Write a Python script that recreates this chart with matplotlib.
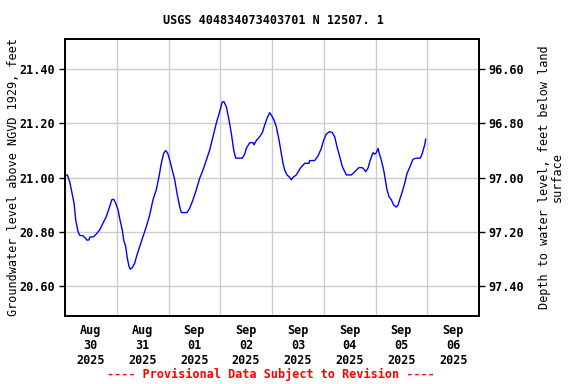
import numpy as np
import pandas as pd
import matplotlib
matplotlib.use("Agg")
import matplotlib.pyplot as plt
import matplotlib.dates as mdates

# hours after 2025-08-30 00:00 and groundwater level (ft above NGVD 1929)
hours = [0.0, 1.07, 2.18, 3.25, 4.17, 4.96, 6.03, 6.82, 8.35, 9.60, 10.2, 11.13, 11.46,
         13.31, 14.52, 16.09, 17.62, 19.15, 20.73, 21.66, 22.59, 23.51, 24.58, 25.65,
         26.57, 27.22, 28.15, 28.89, 29.68, 30.28, 31.21, 32.32, 33.39, 34.64, 36.17,
         37.70, 39.28, 40.81, 42.34, 43.59, 44.66, 45.77, 46.70, 47.63, 48.56, 49.76,
         50.88, 51.94, 53.20, 53.94, 55.51, 56.58, 57.83, 59.36, 60.89, 62.47, 64.0,
         65.53, 67.11, 68.64, 70.17, 71.74, 72.95, 73.74, 74.81, 76.06, 77.12, 78.24,
         79.17, 82.23, 83.34, 84.08, 85.66, 87.19, 87.65, 88.72, 90.30, 91.50, 92.61,
         93.68, 94.93, 95.68, 96.93, 97.99, 99.25, 100.31, 101.10, 101.89, 102.96,
         104.21, 104.95, 105.74, 107.27, 109.13, 111.17, 113.16, 113.49, 115.81,
         117.33, 118.86, 119.98, 121.18, 122.76, 123.97, 125.08, 126.15, 127.40,
         128.61, 129.72, 130.46, 132.78, 133.89, 135.10, 136.35, 137.88, 138.99,
         139.46, 140.52, 141.59, 142.84, 143.63, 144.37, 145.16, 145.95, 146.69,
         147.80, 148.55, 149.33, 150.26, 151.33, 152.44, 153.65, 154.43, 155.22,
         156.42, 157.54, 158.61, 159.86, 161.39, 162.92, 164.78, 165.71, 166.82, 167.28]
level = [21.006, 21.010, 20.985, 20.944, 20.907, 20.844, 20.801, 20.787, 20.785, 20.776,
         20.769, 20.770, 20.780, 20.782, 20.792, 20.807, 20.832, 20.856, 20.893, 20.918,
         20.920, 20.906, 20.881, 20.838, 20.807, 20.770, 20.745, 20.703, 20.672, 20.662,
         20.668, 20.684, 20.715, 20.745, 20.782, 20.819, 20.862, 20.918, 20.955, 21.004,
         21.053, 21.090, 21.100, 21.090, 21.065, 21.028, 20.992, 20.942, 20.893, 20.871,
         20.871, 20.871, 20.887, 20.918, 20.955, 20.998, 21.028, 21.065, 21.102, 21.151,
         21.201, 21.244, 21.280, 21.280, 21.262, 21.213, 21.164, 21.102, 21.072, 21.072,
         21.087, 21.108, 21.129, 21.129, 21.121, 21.137, 21.151, 21.166, 21.194, 21.219,
         21.240, 21.231, 21.213, 21.188, 21.139, 21.090, 21.053, 21.028, 21.010, 21.001,
         20.992, 21.001, 21.010, 21.035, 21.053, 21.053, 21.063, 21.063, 21.080, 21.108,
         21.139, 21.161, 21.170, 21.166, 21.151, 21.114, 21.078, 21.041, 21.022, 21.010,
         21.010, 21.018, 21.028, 21.037, 21.037, 21.028, 21.022, 21.035, 21.065, 21.092,
         21.087, 21.092, 21.108, 21.084, 21.065, 21.028, 20.992, 20.955, 20.930, 20.918,
         20.899, 20.891, 20.899, 20.918, 20.948, 20.979, 21.016, 21.038, 21.068, 21.072,
         21.072, 21.090, 21.121, 21.142]

left_ticks = [20.60, 20.80, 21.00, 21.20, 21.40]
right_ticks = [96.60, 96.80, 97.00, 97.20, 97.40]
land_offset = 118.0  # depth below land surface = land_offset - level

start = pd.Timestamp("2025-08-30")
end = pd.Timestamp("2025-09-07")
times = start + pd.to_timedelta(hours, unit="h")

plt.rcParams["font.family"] = "DejaVu Sans Mono"
plt.rcParams["font.weight"] = "bold"
plt.rcParams["font.size"] = 8.5

fig = plt.figure(figsize=(5.76, 3.84), dpi=100)
ax = fig.add_axes([65 / 576, 68 / 384, 414 / 576, 277 / 384])

ax.plot(times, level, color="#0000ff", linewidth=1.0)

ax.set_xlim(start, end)
ax.set_ylim(20.489, 21.512)
ax.set_yticks(left_ticks)
ax.yaxis.set_major_formatter(plt.FormatStrFormatter("%.2f"))

ax.xaxis.set_major_locator(mdates.DayLocator())
ax.xaxis.set_major_formatter(plt.NullFormatter())
ax.xaxis.set_minor_locator(mdates.HourLocator(byhour=[12]))
ax.xaxis.set_minor_formatter(mdates.DateFormatter("%b\n%d\n%Y"))
ax.tick_params(axis="x", which="major", length=0)
ax.tick_params(axis="x", which="minor", length=0, pad=6)
ax.tick_params(axis="y", length=4, width=1, pad=3)

ax.grid(True, which="major", color="#cccccc", linewidth=1.0)
ax.set_axisbelow(True)
for s in ax.spines.values():
    s.set_linewidth(1.4)

ax.set_ylabel("Groundwater level above NGVD 1929, feet", labelpad=0)

sec = ax.secondary_yaxis("right", functions=(lambda y: land_offset - y, lambda d: land_offset - d))
sec.set_yticks(right_ticks)
sec.yaxis.set_major_formatter(plt.FormatStrFormatter("%.2f"))
sec.tick_params(length=4, width=1, pad=3)
sec.spines["right"].set_linewidth(1.4)
sec.set_ylabel("Depth to water level, feet below land\nsurface", labelpad=10, linespacing=0.95)

fig.text(0.474, 0.946, "USGS 404834073403701 N 12507. 1", ha="center", va="center")
fig.text(0.471, 0.026, "---- Provisional Data Subject to Revision ----",
         ha="center", va="center", color="red")

fig.savefig("out.png", dpi=100)
